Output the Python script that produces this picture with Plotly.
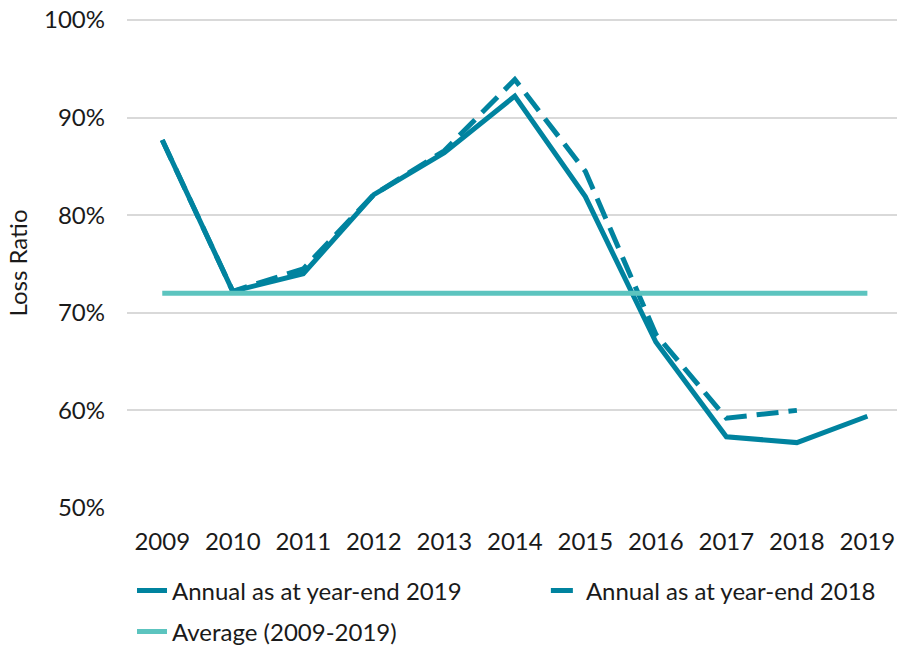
import plotly.graph_objects as go

years = ["2009", "2010", "2011", "2012", "2013", "2014", "2015", "2016", "2017", "2018", "2019"]
ye2019 = [87.7, 72.2, 74.0, 82.1, 86.4, 92.2, 81.9, 67.0, 57.3, 56.7, 59.4]
ye2018 = [87.7, 72.2, 74.5, 82.1, 86.6, 93.9, 84.5, 67.8, 59.2, 60.0]
average = [72.0, 72.0, 72.0, 72.0, 72.0, 72.0, 72.0, 72.0, 72.0, 72.0, 72.0]

dark = "#00839F"
light = "#5CC4BF"
font = "Lato"

fig = go.Figure()
fig.add_trace(go.Scatter(x=years, y=ye2019, mode="lines", name="Annual as at year-end 2019",
                         line=dict(color=dark, width=5), legend="legend"))
fig.add_trace(go.Scatter(x=years[:len(ye2018)], y=ye2018, mode="lines", name="Annual as at year-end 2018",
                         line=dict(color=dark, width=5, dash="22px,10px"), legend="legend3"))
fig.add_trace(go.Scatter(x=years, y=average, mode="lines", name="Average (2009-2019)",
                         line=dict(color=light, width=5), legend="legend2"))

# one legend per entry so each sits where the original puts it
leg = dict(orientation="h", xanchor="left", yanchor="middle", font=dict(size=24),
           bgcolor="rgba(0,0,0,0)")

fig.update_layout(
    width=897, height=647,
    margin=dict(l=127, r=0, t=18, b=139, autoexpand=False),
    plot_bgcolor="white", paper_bgcolor="white",
    font=dict(family=font, size=24, color="#1a1a1a"),
    showlegend=True,
    legend=dict(leg, x=0.0065, y=-0.169),
    legend3=dict(leg, x=0.544, y=-0.169),
    legend2=dict(leg, x=0.0065, y=-0.253),
)
fig.update_xaxes(type="category", range=[-0.5, 10.42], showgrid=False, showline=False,
                 automargin=False, ticks="", ticklabelstandoff=17, tickfont=dict(size=24))
# top of range a touch above 100 so plotly keeps the 100% gridline
fig.update_yaxes(range=[50, 100.2], dtick=10, ticksuffix="%", showgrid=True, gridcolor="#D9D9D9",
                 gridwidth=1.5, zeroline=False, showline=False, ticklabelstandoff=21,
                 automargin=False, tickfont=dict(size=24),
                 title=dict(text="Loss Ratio", standoff=9, font=dict(size=24)))

# drop the page's default body margin so the 897x647 figure fills the window
fig.write_html("out.html", config={"displayModeBar": False},
               post_script="document.body.style.margin='0';document.body.style.overflow='hidden';")
